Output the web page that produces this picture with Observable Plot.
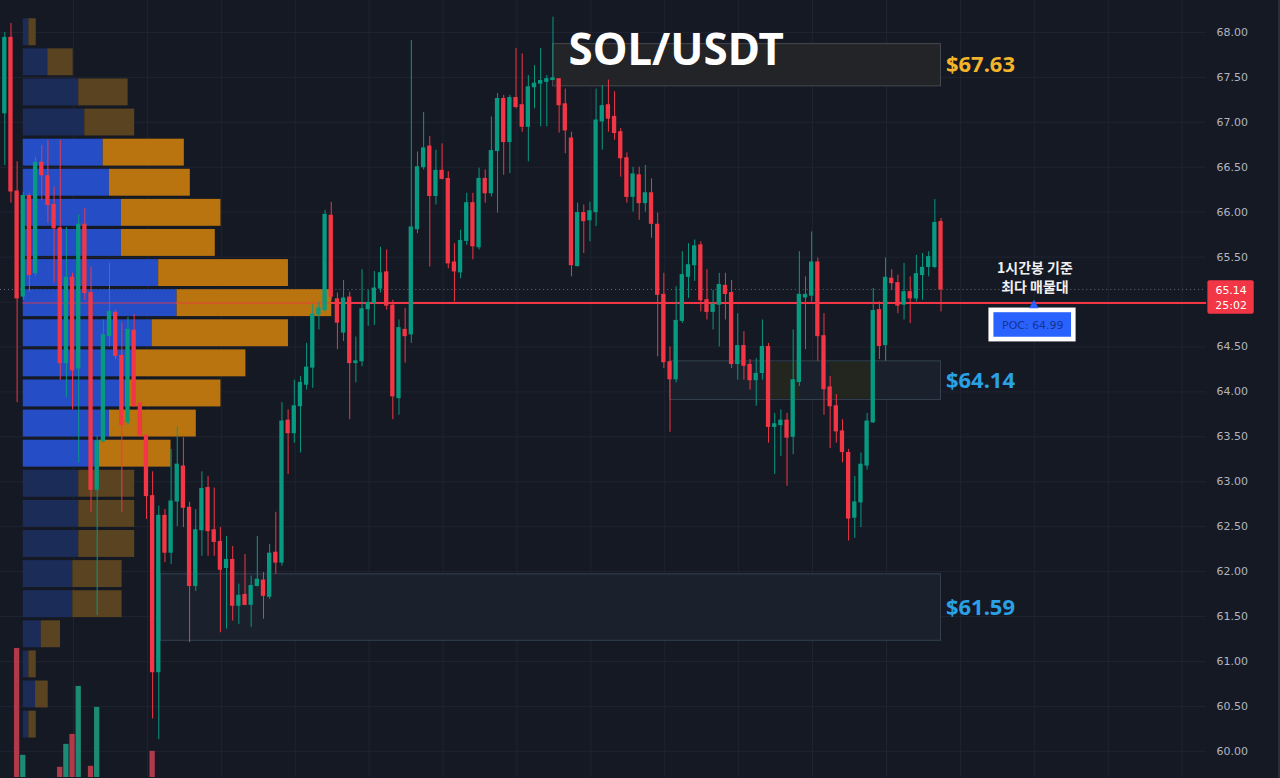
<!DOCTYPE html>
<html><head><meta charset="utf-8">
<script src="https://cdn.jsdelivr.net/npm/d3@7"></script>
<script src="https://cdn.jsdelivr.net/npm/@observablehq/plot@0.6"></script>
<style>
html,body{margin:0;padding:0;background:#151924;}
#chart{position:relative;width:1280px;height:778px;overflow:hidden;background:#151924;box-sizing:border-box;border-right:2px solid #2a2e38;}
#chart svg{position:absolute;left:0;top:0;}
</style></head><body><div id="chart"></div>
<script>
// ---------- DATA ----------
const opens=[67.10,67.94,66.23,65.06,66.18,65.32,66.55,66.40,66.08,65.82,
64.32,65.27,64.26,65.86,65.10,62.91,63.45,64.62,64.88,64.40,
63.66,64.68,63.87,63.51,62.84,60.88,62.62,62.21,62.78,63.17,
62.71,61.84,62.46,62.93,62.46,62.33,62.04,62.13,61.62,61.74,
61.63,61.84,61.90,61.72,62.21,62.10,63.68,63.54,63.84,64.08,
64.27,64.86,64.91,65.96,65.03,64.66,65.05,64.32,64.34,64.92,
64.99,65.15,65.33,64.96,63.93,64.69,64.64,65.81,66.50,66.73,
66.18,66.46,66.37,65.44,65.33,65.68,66.10,65.61,66.37,66.21,
66.68,67.26,66.78,67.27,67.19,66.95,67.39,67.43,67.45,67.47,
67.48,67.20,66.82,65.40,65.99,65.91,66.00,67.01,67.19,67.06,
66.89,66.60,66.17,66.41,66.10,66.21,65.86,65.08,64.33,64.14,
64.79,65.28,65.41,65.63,65.02,64.89,64.97,65.18,65.10,64.31,
64.51,64.30,64.13,64.21,64.50,63.61,63.63,63.68,63.50,64.11,
65.05,65.07,65.44,64.62,64.05,63.84,63.56,63.32,62.60,62.77,
63.18,63.66,64.91,64.52,65.26,65.21,64.97,65.11,65.04,65.30,
65.39,65.39,65.89];
const highs=[68.00,68.10,66.56,66.22,66.21,66.61,66.74,66.80,66.28,66.80,
65.83,65.32,65.97,66.04,65.39,63.51,64.80,65.43,64.91,64.77,
64.83,64.86,63.88,63.52,63.11,62.73,62.69,63.36,63.61,63.49,
62.77,62.69,63.11,63.06,62.93,62.49,62.39,62.28,61.86,62.19,
61.95,62.39,61.99,62.30,62.66,63.88,63.80,64.13,64.17,64.54,
64.97,65.00,66.02,66.11,65.10,65.24,65.11,64.61,65.36,65.13,
65.34,65.61,65.58,65.02,64.80,64.93,67.91,66.67,67.11,66.84,
66.69,66.76,66.45,65.65,65.80,66.21,66.21,66.49,66.47,67.06,
67.32,67.30,67.30,67.82,67.76,67.52,67.63,67.82,67.52,68.17,
67.48,67.37,66.89,66.10,66.08,66.11,67.37,67.41,67.47,67.34,
66.93,66.66,66.50,66.50,66.52,66.37,65.99,65.32,64.50,65.17,
65.56,65.65,65.69,65.67,65.36,65.13,65.32,65.32,65.24,64.87,
64.67,64.36,64.37,64.80,64.54,63.76,63.80,63.76,64.69,65.56,
65.28,65.78,65.49,64.87,64.17,63.97,63.69,63.36,63.06,63.32,
63.76,65.15,65.00,65.49,65.36,65.30,65.43,65.28,65.52,65.54,
65.56,66.14,65.93];
const lows=[66.52,66.10,63.88,65.02,65.11,65.28,66.13,65.88,65.21,64.13,
63.94,63.80,63.21,65.02,62.66,61.51,63.43,64.50,64.36,62.66,
63.63,63.83,63.50,62.58,60.36,60.13,62.10,62.08,62.50,62.49,
61.21,61.78,62.17,62.17,62.17,61.32,61.36,61.45,61.41,61.62,
61.38,61.83,61.47,61.69,61.97,62.06,63.08,63.43,63.32,64.02,
64.04,64.69,64.89,65.02,64.47,64.56,63.69,64.10,64.28,64.73,
64.74,65.10,64.91,63.69,63.74,64.32,64.54,65.76,66.47,65.39,
66.08,66.36,65.37,65.00,65.26,65.63,65.47,65.58,66.10,66.17,
65.99,66.41,66.43,67.15,66.89,66.56,67.15,66.95,66.95,67.47,
66.88,66.65,65.28,65.39,65.54,65.67,65.84,66.69,66.89,66.80,
66.39,66.10,66.00,65.91,66.00,65.71,64.39,64.26,63.55,64.10,
64.76,65.04,65.23,64.89,64.80,64.69,64.50,64.80,64.26,64.13,
64.13,64.02,63.84,64.13,63.43,63.08,63.28,62.95,63.30,64.06,
64.47,65.00,64.34,63.74,63.37,63.43,63.21,62.34,62.37,62.49,
63.13,63.65,64.36,64.34,65.13,64.87,64.80,64.76,65.00,65.02,
65.28,65.37,64.89];
const closes=[67.94,66.23,65.04,66.18,65.30,66.55,66.41,66.08,65.82,64.32,
65.27,64.24,65.86,65.10,62.91,63.45,64.63,64.89,64.40,63.63,
64.69,63.84,63.52,62.84,60.88,62.62,62.21,62.78,63.19,62.71,
61.84,62.46,62.92,62.45,62.33,62.02,62.13,61.62,61.73,61.63,
61.84,61.91,61.73,62.20,62.10,63.67,63.54,63.84,64.10,64.27,
64.86,64.93,65.97,65.06,64.77,65.04,64.32,64.34,64.92,64.99,
65.15,65.32,64.96,63.95,64.71,64.62,65.83,66.50,66.71,66.18,
66.46,66.37,65.43,65.34,65.68,66.10,65.62,66.37,66.21,66.68,
67.26,66.78,67.27,67.17,66.95,67.39,67.43,67.46,67.48,67.49,
67.19,66.91,65.41,65.99,65.90,66.01,67.02,67.18,67.04,66.88,
66.60,66.17,66.42,66.10,66.21,65.87,65.08,64.33,64.14,64.79,
65.30,65.41,65.62,65.02,64.89,64.97,65.19,65.09,64.31,64.51,
64.29,64.13,64.20,64.50,63.61,63.64,63.68,63.49,64.13,65.08,
65.08,65.44,64.62,64.03,63.84,63.56,63.33,62.59,62.77,63.19,
63.67,64.90,64.51,65.27,65.21,64.96,65.11,65.04,65.31,65.38,
65.50,65.88,65.14];

const priceTicks=[60,60.5,61,61.5,62,62.5,63,63.5,64,64.5,65,65.5,66,66.5,67,67.5,68];
// tick labels shown on the price scale (65.00 is hidden by the last-price tag)
const priceLabels=[60,60.5,61,61.5,62,62.5,63,63.5,64,64.5,65.5,66,66.5,67,67.5,68];
const gridTimes=[11.15,23.15,35.15,47.15,59.15,71.15,83.15,95.15,107.15,119.15,131.15,143.15,155.15,167.15,179.15,191.15];

// volume profile rows, top (high price) to bottom
const profileUp  =[5.6,24.6,55.6,61.6,80,86.3,98.3,98.3,135.6,154,129,112.3,102.3,86.3,76.3,55.6,55.6,55.6,49.6,49.6,18,5.6,12.3,5.6];
const profileDown=[7.4,25.4,49.4,50,81.3,81,99.7,94,130,155,136.6,110.7,95.7,87,71.7,56,56,56,49.4,49.4,19.3,7.4,12.7,7.4];
const profileHigh=68.17, profileLow=60.13, profileStart=3;
const valueAreaRows=[4,14];
const pocPrice=64.99, lastPrice=65.14, countdown="25:02";

// visible volume bars (bottom pane)
const volIndex=[2,3,9,10,11,12,14,15,24];
const volValues=[141,34,22,45,55,103,23,82,38];

// zones
const zoneFrom=[89,108,25.35], zoneTo=[152,152,152];
const zoneLow=[67.40,63.91,61.23], zoneHigh=[67.87,64.34,61.97];
const zoneLabels=["$67.63","$64.14","$61.59"];
const shadeFrom=[124.4,134.1], shadeTo=[129.1,140.6];

const titleText="SOL/USDT";
const noteText="1시간봉 기준\n최다 매물대";
const pocText="POC: 64.99";

// ---------- LAYOUT ----------
const W=1280,H=778,X0=4.3,STEP=6.169,MR=72;
const N=opens.length;
const xS={domain:[0,N-1],range:[X0,X0+(N-1)*STEP],axis:null};
const yS={domain:[60,68],range:[752,32]};
const rightIdx=(W-MR-X0)/STEP;
const st={background:"transparent",fontFamily:"DejaVu Sans",position:"absolute",left:"0px",top:"0px",overflow:"hidden"};

const candles=opens.map((o,i)=>({i,o,h:highs[i],l:lows[i],c:closes[i]}));
const cCol=d=>d.c>=d.o?"#089981":"#f23645";
const zones=zoneFrom.map((f,k)=>({f,t:zoneTo[k],lo:zoneLow[k],hi:zoneHigh[k],label:zoneLabels[k],k}));
const shades=shadeFrom.map((f,k)=>({f,t:shadeTo[k]}));
const stepP=(profileHigh-profileLow)/profileUp.length;
const rows=profileUp.map((u,k)=>({k,up:u,down:profileDown[k],hi:profileHigh-k*stepP,lo:profileHigh-(k+1)*stepP,va:k>=valueAreaRows[0]&&k<=valueAreaRows[1]}));
const pocRow=rows.filter(r=>pocPrice<=r.hi&&pocPrice>=r.lo);
const volumes=volIndex.map((i,k)=>({i,v:volValues[k],up:closes[i]>=opens[i]}));
const pMax=d3.max(rows,r=>r.up+r.down);
const pX0=X0+STEP*profileStart;

const back=Plot.plot({
  width:W,height:H,marginTop:0,marginBottom:0,marginLeft:0,marginRight:MR,
  x:xS,y:yS,color:{type:"identity"},style:st,
  marks:[
    Plot.gridY(priceTicks,{stroke:"#1f2430",strokeOpacity:1}),
    Plot.ruleX(gridTimes,{stroke:"#1f2430",strokeOpacity:1}),
    Plot.rect(zones,{x1:"f",x2:"t",y1:"lo",y2:"hi",
      fill:d=>d.k===0?"#222427":"#1a212d",
      stroke:d=>d.k===0?"#46494f":"#344050",strokeWidth:1}),
    Plot.rect(shades,{x1:"f",x2:"t",y1:()=>zoneLow[1],y2:()=>zoneHigh[1],fill:"#22261f",insetTop:1,insetBottom:1}),
    Plot.ruleY([lastPrice],{stroke:"#7b7f8a",strokeDasharray:"1,3",strokeOpacity:0.8}),
    Plot.ruleY([pocPrice],{x1:()=>profileStart,x2:()=>rightIdx,stroke:"#f23645",strokeWidth:2}),
    Plot.axisY(priceLabels,{anchor:"right",tickSize:0,tickPadding:10,tickFormat:d=>d.toFixed(2),fill:"#b2b5be",fontSize:11,label:null})
  ]
});

const profile=Plot.plot({
  width:W,height:H,margin:0,
  x:{domain:[0,pMax],range:[pX0,pX0+pMax],axis:null},y:{...yS,axis:null},
  color:{type:"identity"},style:st,
  marks:[
    Plot.rect(rows,{x1:()=>0,x2:"up",y1:"lo",y2:"hi",insetTop:1.6,insetBottom:1.6,fill:d=>d.va?"#254ec6":"#1c2c58"}),
    Plot.rect(rows,{x1:"up",x2:d=>d.up+d.down,y1:"lo",y2:"hi",insetTop:1.6,insetBottom:1.6,fill:d=>d.va?"#b9740f":"#5a4320"}),
    Plot.ruleY(pocRow,{x1:()=>0,x2:d=>d.up+d.down,y:()=>pocPrice,stroke:"#f23645",strokeOpacity:0.55,strokeWidth:1.5})
  ]
});

const vol=Plot.plot({
  width:W,height:H,margin:0,
  x:xS,y:{domain:[0,150],range:[790,640],axis:null},
  color:{type:"identity"},style:st,
  marks:[
    Plot.rect(volumes,{x1:d=>d.i-0.43,x2:d=>d.i+0.43,y1:()=>0,y2:"v",fill:d=>d.up?"#1d8a73":"#b03a4a"})
  ]
});

const front=Plot.plot({
  width:W,height:H,margin:0,
  x:xS,y:{...yS,axis:null},color:{type:"identity"},style:st,
  marks:[
    Plot.ruleX(candles,{x:"i",y1:"l",y2:"h",stroke:cCol,strokeWidth:1}),
    Plot.rect(candles,{x1:d=>d.i-0.35,x2:d=>d.i+0.35,y1:d=>Math.min(d.o,d.c),y2:d=>Math.max(d.o,d.c),fill:cCol,insetTop:-0.5,insetBottom:-0.5}),
    Plot.text([titleText],{x:()=>109.0,y:()=>67.79,text:d=>d,fill:"#ffffff",fontSize:44,fontWeight:"bold",fontFamily:"Noto Sans"}),
    Plot.text(zones,{x:"t",y:d=>(d.lo+d.hi)/2,text:"label",dx:5,textAnchor:"start",fill:d=>d.k===0?"#f2b52b":"#2aa1e4",fontSize:22,fontWeight:"bold",fontFamily:"Noto Sans"}),
    Plot.text([noteText],{x:()=>167.25,y:()=>65.28,text:d=>d,fill:"#f0f0f0",fontSize:14,fontWeight:"bold",lineHeight:1.35,fontFamily:"Noto Sans CJK KR"}),
    Plot.rect([pocText],{x1:()=>159.78,x2:()=>173.93,y1:()=>64.556,y2:()=>64.933,fill:"#ffffff"}),
    Plot.rect([pocText],{x1:()=>160.59,x2:()=>173.19,y1:()=>64.608,y2:()=>64.881,fill:"#2962ff"}),
    Plot.text([pocText],{x:()=>166.9,y:()=>64.744,text:d=>d,fill:"#16358e",fontSize:11,fontFamily:"DejaVu Sans"}),
    Plot.dot([pocPrice],{x:()=>167.08,y:()=>64.962,symbol:"triangle",r:3.6,fill:"#2962ff",stroke:null}),
    Plot.rect([lastPrice],{x1:()=>195.33,x2:()=>202.85,y1:()=>64.863,y2:()=>65.237,fill:"#f23645",rx:2}),
    Plot.text([lastPrice.toFixed(2),countdown],{x:()=>199.1,y:(d,i)=>i===0?65.133:64.956,text:d=>d,fill:"#ffffff",fontSize:11,fontFamily:"DejaVu Sans"})
  ]
});

const el=document.getElementById("chart");
el.append(back,profile,vol,front);
</script></body></html>
